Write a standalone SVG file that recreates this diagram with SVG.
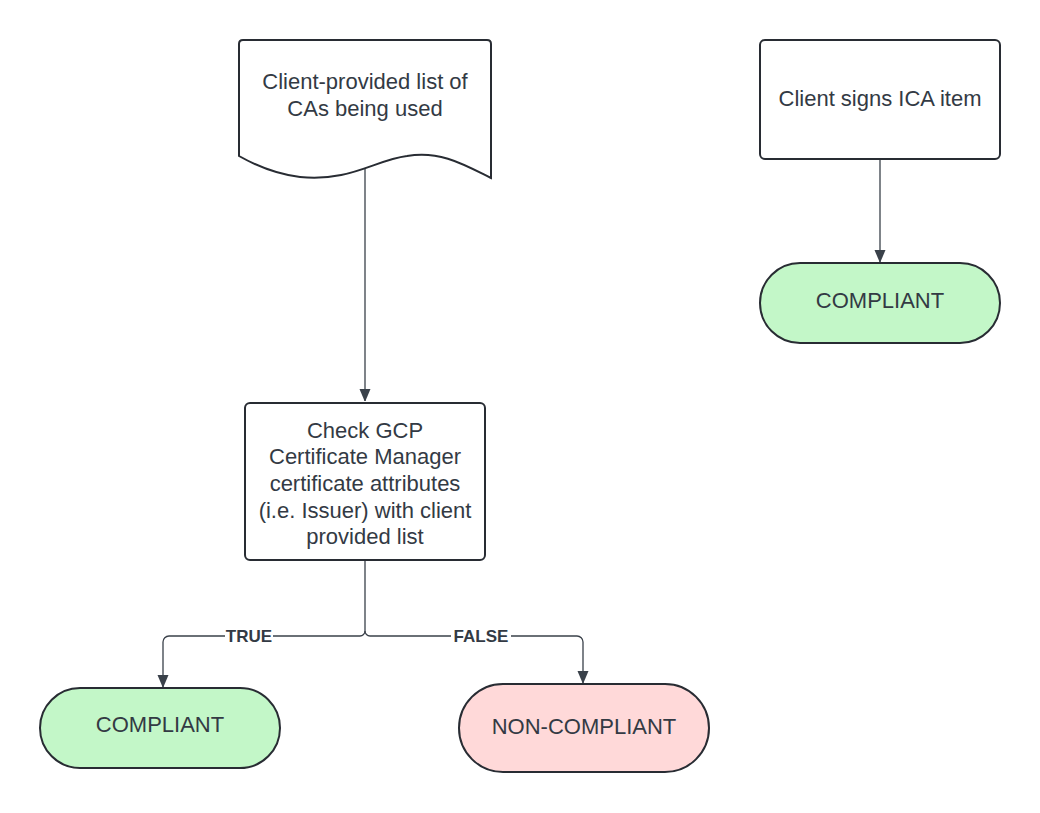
<svg xmlns="http://www.w3.org/2000/svg" width="1040" height="813" viewBox="0 0 1040 813">
<defs>
<style>
.shape{stroke:#282c33;stroke-width:2;fill:#ffffff}
.t{font-family:"Liberation Sans",Arial,sans-serif;font-size:22px;fill:#333a44;text-anchor:middle}
.lbl{font-family:"Liberation Sans",Arial,sans-serif;font-size:17px;font-weight:bold;fill:#333a44;text-anchor:middle}
.c{stroke:#3a414a;stroke-width:1.3;fill:none}
</style>
<marker id="arr" markerWidth="12" markerHeight="14" refX="12" refY="6" orient="auto" markerUnits="userSpaceOnUse">
<path d="M0,0.5 L13,6 L0,11.5 Z" fill="#3a414a"/>
</marker>
</defs>
<rect width="1040" height="813" fill="#ffffff"/>
<g id="connectors">
<line class="c" x1="365" y1="168" x2="365" y2="401" marker-end="url(#arr)"/>
<path class="c" d="M365,561 L365,631 A5,5 0 0 1 360,636 L169,636 A6,6 0 0 0 163,642 L163,687" marker-end="url(#arr)"/>
<path class="c" d="M365,631 A5,5 0 0 0 370,636 L577,636 A6,6 0 0 1 583,642 L583,683" marker-end="url(#arr)"/>
<line class="c" x1="880" y1="160" x2="880" y2="262" marker-end="url(#arr)"/>
<rect x="225" y="627" width="48" height="18" fill="#ffffff"/>
<text class="lbl" x="249" y="642">TRUE</text>
<rect x="451" y="627" width="60" height="18" fill="#ffffff"/>
<text class="lbl" x="481" y="642">FALSE</text>
</g>
<g id="doc">
<path class="shape" d="M243,40 L487,40 Q491,40 491,44 L491,178 C465,165 440,150 407,156 C375,160 350,182 300,177 C275,174 255,165 239,156 L239,44 Q239,40 243,40 Z"/>
<text class="t" x="365" y="89">Client-provided list of</text>
<text class="t" x="365" y="116">CAs being used</text>
</g>
<g id="check">
<rect class="shape" x="245" y="403" width="240" height="157" rx="5"/>
<text class="t" x="365" y="438">Check GCP</text>
<text class="t" x="365" y="464">Certificate Manager</text>
<text class="t" x="365" y="491">certificate attributes</text>
<text class="t" x="365" y="518">(i.e. Issuer) with client</text>
<text class="t" x="365" y="544">provided list</text>
</g>
<g id="compliant1">
<rect class="shape" x="40" y="688" width="240" height="80" rx="40" style="fill:#c3f7c8"/>
<text class="t" x="160" y="732">COMPLIANT</text>
</g>
<g id="noncompliant">
<rect class="shape" x="459" y="684" width="250" height="88" rx="44" style="fill:#ffd9d9"/>
<text class="t" x="584" y="734">NON-COMPLIANT</text>
</g>
<g id="sign">
<rect class="shape" x="760" y="40" width="240" height="119" rx="5"/>
<text class="t" x="880" y="106">Client signs ICA item</text>
</g>
<g id="compliant2">
<rect class="shape" x="760" y="263" width="240" height="80" rx="40" style="fill:#c3f7c8"/>
<text class="t" x="880" y="308">COMPLIANT</text>
</g>
</svg>
